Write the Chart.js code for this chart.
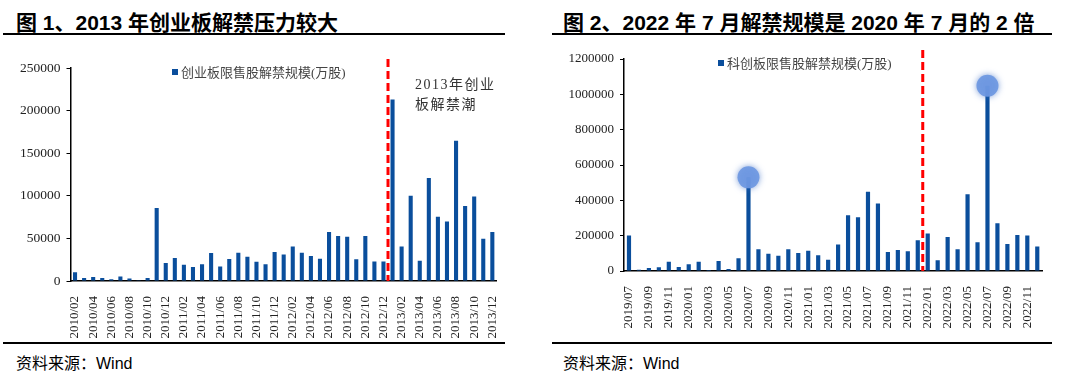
<!DOCTYPE html>
<html>
<head>
<meta charset="utf-8">
<script src="https://cdn.jsdelivr.net/npm/chart.js@4/dist/chart.umd.min.js"></script>
<style>
  body { margin: 0; width: 1080px; height: 375px; background: #fff; position: relative; overflow: hidden; }
  .title { position: absolute; top: 6px; font: bold 21px "Liberation Sans", "Noto Sans CJK SC", sans-serif; color: #000; white-space: nowrap; }
  .rule { position: absolute; height: 2px; background: #000; }
  .rule.thin { height: 1.5px; }
  .src { position: absolute; top: 350px; font: 16px "Liberation Sans", "Noto Sans CJK SC", sans-serif; color: #000; }
  .box { position: absolute; }
  .legend { position: absolute; font: 13px "Liberation Serif", "Noto Sans CJK SC", serif; color: #444; white-space: nowrap; }
  .legend i { display: inline-block; width: 6px; height: 6px; background: #0a4e9c; margin-right: 3px; vertical-align: 2px; }
  .note { position: absolute; font: 14px "Liberation Serif", "Noto Sans CJK SC", serif; color: #333; letter-spacing: 1.5px; line-height: 20px; }
</style>
</head>
<body>
<div class="title" style="left:16px">图 1、2013 年创业板解禁压力较大</div>
<div class="title" style="left:563px">图 2、2022 年 7 月解禁规模是 2020 年 7 月的 2 倍</div>
<div class="rule" style="left:3px;width:502px;top:33px"></div>
<div class="rule" style="left:552px;width:500px;top:33px"></div>

<div class="box" style="left:0;top:50px;width:515px;height:291px"><canvas id="gem"></canvas></div>
<div class="box" style="left:540px;top:40px;width:520px;height:291px"><canvas id="star"></canvas></div>

<div class="legend" style="left:172px;top:62px"><i></i>创业板限售股解禁规模(万股)</div>
<div class="legend" style="left:718px;top:53px"><i></i>科创板限售股解禁规模(万股)</div>
<div class="note" style="left:415px;top:75px">2013年创业<br>板解禁潮</div>

<div class="rule thin" style="left:3px;width:502px;top:342px"></div>
<div class="rule thin" style="left:552px;width:500px;top:342px"></div>
<div class="src" style="left:16px">资料来源：Wind</div>
<div class="src" style="left:563px">资料来源：Wind</div>

<script>
// 图1 创业板 2010/02 - 2013/12
const gemMonths = [
  "2010/02","2010/03","2010/04","2010/05","2010/06","2010/07","2010/08","2010/09","2010/10","2010/11","2010/12",
  "2011/01","2011/02","2011/03","2011/04","2011/05","2011/06","2011/07","2011/08","2011/09","2011/10","2011/11","2011/12",
  "2012/01","2012/02","2012/03","2012/04","2012/05","2012/06","2012/07","2012/08","2012/09","2012/10","2012/11","2012/12",
  "2013/01","2013/02","2013/03","2013/04","2013/05","2013/06","2013/07","2013/08","2013/09","2013/10","2013/11","2013/12"
];
const gemValues = [
  10300, 3600, 4800, 3600, 2000, 5200, 2800, 800, 3600, 85700, 21000,
  27000, 19000, 16300, 19800, 33000, 17000, 25800, 33300, 28600, 22600, 19800, 34100,
  31000, 40500, 33300, 29400, 26200, 57500, 52800, 52000, 25400, 52800, 23000, 23000,
  213000, 40500, 100000, 23800, 121000, 75400, 69800, 164700, 88100, 99200, 49600, 57500
];
const gemSplitAfter = "2012/12";

// 图2 科创板 2019/07 - 2022/12
const starMonths = [
  "2019/07","2019/08","2019/09","2019/10","2019/11","2019/12",
  "2020/01","2020/02","2020/03","2020/04","2020/05","2020/06","2020/07","2020/08","2020/09","2020/10","2020/11","2020/12",
  "2021/01","2021/02","2021/03","2021/04","2021/05","2021/06","2021/07","2021/08","2021/09","2021/10","2021/11","2021/12",
  "2022/01","2022/02","2022/03","2022/04","2022/05","2022/06","2022/07","2022/08","2022/09","2022/10","2022/11","2022/12"
];
const starValues = [
  200300, 7600, 17000, 20800, 52900, 22700,
  37800, 52900, 5700, 56700, 11300, 71800, 530000, 122900, 98300, 86900, 122900, 102000,
  115300, 88800, 64300, 149300, 315600, 304300, 447900, 381800, 107700, 119100, 111500, 173900,
  211700, 60500, 192800, 122900, 434700, 162500, 1049000, 270300, 153100, 204100, 200300, 138000
];
const starSplitAfter = "2021/12";
const starHighlights = ["2020/07", "2022/07"];

const serif = '"Liberation Serif", "Noto Sans CJK SC", serif';

// red dashed divider between two months
const splitLine = {
  id: 'splitLine',
  afterDatasetsDraw(chart, args, opts) {
    const x = chart.scales.x;
    const i = chart.data.labels.indexOf(opts.after);
    if (i < 0) return;
    const px = (x.getPixelForValue(i) + x.getPixelForValue(i + 1)) / 2;
    const ctx = chart.ctx;
    ctx.save();
    ctx.strokeStyle = '#ff0000';
    ctx.lineWidth = 3;
    ctx.setLineDash([8, 4]);
    ctx.beginPath();
    ctx.moveTo(px, chart.chartArea.top - 9);
    ctx.lineTo(px, chart.chartArea.bottom);
    ctx.stroke();
    ctx.restore();
  }
};

// soft glow for the highlight circles
const glow = {
  id: 'glow',
  beforeDatasetDraw(chart, args) {
    if (chart.data.datasets[args.index].type !== 'line') return;
    chart.ctx.save();
    chart.ctx.shadowColor = 'rgba(60,110,200,0.7)';
    chart.ctx.shadowBlur = 6;
  },
  afterDatasetDraw(chart, args) {
    if (chart.data.datasets[args.index].type !== 'line') return;
    chart.ctx.restore();
  }
};

function makeChart(id, labels, values, opt) {
  const datasets = [{
    type: 'bar',
    data: values,
    backgroundColor: '#0a4e9c',
    barPercentage: opt.barPct,
    categoryPercentage: 1,
    order: 1
  }];
  if (opt.highlights) {
    datasets.push({
      type: 'line',
      data: labels.map((m, i) => opt.highlights.includes(m) ? values[i] : null),
      showLine: false,
      pointRadius: 11,
      pointBackgroundColor: 'rgba(110,152,226,0.92)',
      pointBorderWidth: 0,
      order: 0
    });
  }
  return new Chart(document.getElementById(id), {
    type: 'bar',
    data: { labels: labels, datasets: datasets },
    options: {
      responsive: true,
      maintainAspectRatio: false,
      animation: false,
      layout: { padding: { top: opt.padTop, right: opt.padRight, bottom: 0, left: 0 } },
      plugins: {
        legend: { display: false },
        tooltip: { enabled: false },
        splitLine: { after: opt.splitAfter }
      },
      scales: {
        x: {
          grid: { display: false },
          border: { color: '#000', width: 1.5 },
          ticks: {
            autoSkip: false,
            minRotation: 90,
            maxRotation: 90,
            padding: 7,
            color: '#222',
            font: { family: serif, size: 13 },
            callback: (v, i) => i % 2 === 0 ? labels[i] : ''
          },
          afterFit: s => { s.height = 60; }
        },
        y: {
          min: 0,
          max: opt.max,
          grid: { drawOnChartArea: false, drawTicks: true, tickLength: 4, color: '#000' },
          border: { color: '#000', width: 1.5 },
          ticks: {
            stepSize: opt.step,
            padding: 6,
            color: '#222',
            font: { family: serif, size: opt.yFont },
            callback: v => String(v)
          },
          afterFit: s => { s.width = opt.yWidth; }
        }
      }
    },
    plugins: [splitLine, glow]
  });
}

makeChart('gem', gemMonths, gemValues, {
  max: 250000, step: 50000, yWidth: 70.5, yFont: 13.5,
  padTop: 18, padRight: 6, barPct: 0.45, splitAfter: gemSplitAfter
});
makeChart('star', starMonths, starValues, {
  max: 1200000, step: 200000, yWidth: 84, yFont: 13,
  padTop: 19, padRight: 7, barPct: 0.42, splitAfter: starSplitAfter,
  highlights: starHighlights
});
</script>
</body>
</html>
